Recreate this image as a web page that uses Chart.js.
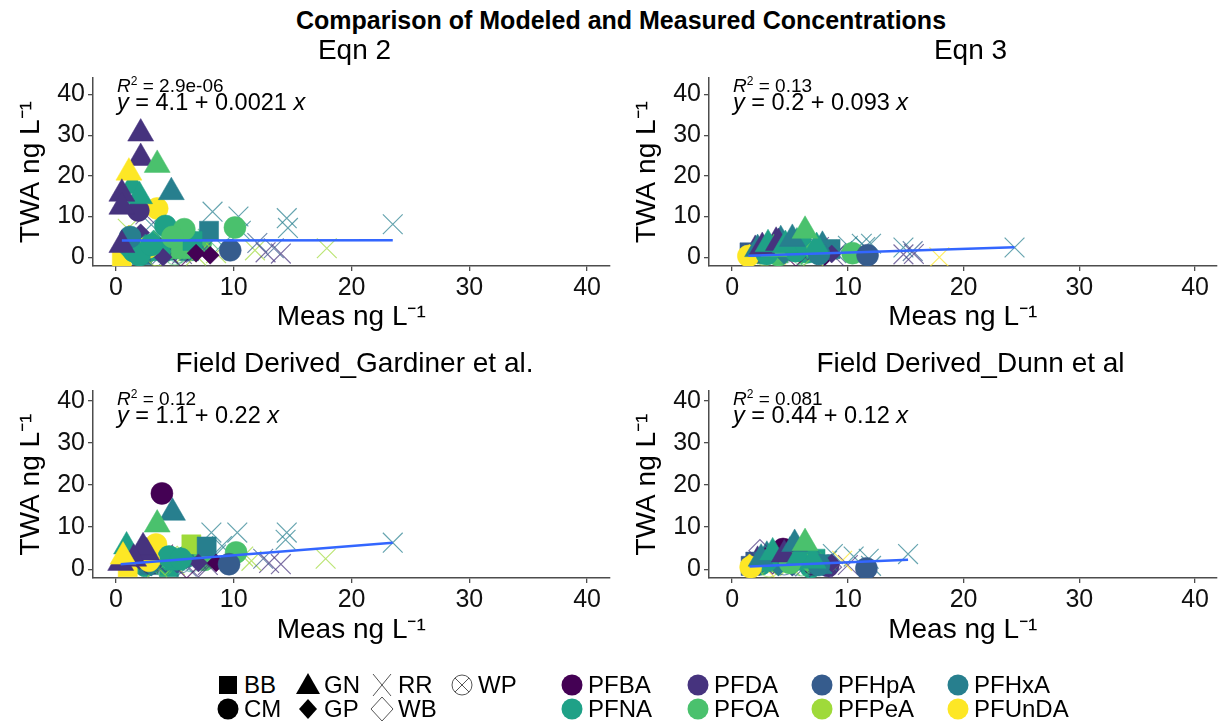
<!DOCTYPE html>
<html>
<head>
<meta charset="utf-8">
<script src="https://cdn.jsdelivr.net/npm/chart.js@4.4.1/dist/chart.umd.min.js"></script>
<style>
  body { margin: 0; width: 1232px; height: 724px; overflow: hidden; background: #fff;
         font-family: 'Liberation Sans', Arial, sans-serif; position: relative; }
  canvas.panel { position: absolute; }
  .t { position: absolute; white-space: nowrap; color: #000; line-height: 1; }
  .main-title { font-weight: bold; font-size: 25px; top: 8px; left: 621px; transform: translateX(-50%); }
  .sub { font-size: 28px; transform: translateX(-50%); }
  .r2 { font-size: 19px; }
  .eq { font-size: 23.5px; }
  .leg { position: absolute; display: flex; align-items: center; font-size: 24px; line-height: 1; }
  .leg canvas { margin-right: 4px; }
</style>
</head>
<body>
<div class="t main-title">Comparison of Modeled and Measured Concentrations</div>
<canvas id="c1" class="panel" width="625" height="280"></canvas>
<canvas id="c2" class="panel" width="616" height="280"></canvas>
<canvas id="c3" class="panel" width="625" height="280"></canvas>
<canvas id="c4" class="panel" width="616" height="280"></canvas>
<div id="labels"></div>
<div id="legend"></div>

<script>
// categories
const sites = ['BB', 'CM', 'GN', 'GP', 'RR', 'WB', 'WP'];
const compounds = ['PFBA', 'PFDA', 'PFHpA', 'PFHxA', 'PFNA', 'PFOA', 'PFPeA', 'PFUnDA'];
const panelTitles = ['Eqn 2', 'Eqn 3', 'Field Derived_Gardiner et al.', 'Field Derived_Dunn et al'];
const xTicks = [0, 10, 20, 30, 40];
const yTicks = [0, 10, 20, 30, 40];

// fit results shown in each panel
const fitIntercept = [4.1, 0.2, 1.1, 0.44];
const fitSlope = [0.0021, 0.093, 0.22, 0.12];
const fitR2 = ['2.9e-06', '0.13', '0.12', '0.081'];

// Eqn 2
const eqn2Meas = [2.5, 1.8, 4.8, 2.2, 6.2, 3.2, 5.2, 7.2,
  3.2, 3.8, 4.4, 5.0, 5.6, 6.2, 6.8, 7.5, 4.0, 2.8, 5.8, 7.8, 4.6, 6.0, 3.6, 5.3,
  8.2, 10.4, 10.6, 14.5, 14.6, 23.5, 17.9, 11.8, 12.7, 14, 13.4, 9, 7, 6, 5, 3.5, 12, 8.5, 3, 1, 2.5, 4.5,
  4, 5.5, 3, 6.5, 4.2, 5, 3.5,
  7.9, 0.5, 1.5, 5.5, 6.5, 3.8,
  8, 1.1, 2.1, 1.0, 2.5, 6.8, 4,
  3.5, 1.9, 4.2, 5.8, 10.1, 9.7, 2.7, 1.5, 2, 3, 4.8, 1.2,
  1.4, 2, 2.1, 2.1, 3.5, 1.1, 4.7, 0.5, 0.5, 0.5];
const eqn2Twa = [1, 3.5, 2, 0.5, 1.5, 4.5, 5.5, 3.5,
  0.5, 2.5, 1.2, 2.0, 0.8, 2.8, 0.4, 2.0, 4.0, 1.8, 4.5, 4.5, 2.8, 1.5, 2.2, 1.0,
  11.2, 10, 6.5, 9.6, 7.2, 8.1, 2.2, 1.7, 1.2, 0.9, 2.2, 3, 5.5, 1.2, 3, 2, 3.5, 1, 8, 7, 10.5, 0.5,
  1, 0.5, 0.8, 2.5, 1.5, 0.5, 0.3,
  6.5, 0, 3, 2, 4, 1.5,
  0.5, 5.7, 6, 1.5, 3.5, 1, 0,
  12, 11.5, 7.7, 6.9, 7.3, 1.7, 2.4, 1.5, 0.5, 3, 5, 5,
  17.5, 15, 30.4, 24.4, 22.7, 20.8, 16, 15.6, 12.4, 3.0];
const eqn2Site = ['CM', 'CM', 'CM', 'BB', 'BB', 'GP', 'CM', 'CM',
  'RR', 'RR', 'RR', 'RR', 'RR', 'RR', 'RR', 'RR', 'RR', 'RR', 'RR', 'RR', 'WB', 'WB', 'WP', 'WP',
  'RR', 'RR', 'RR', 'RR', 'RR', 'RR', 'RR', 'RR', 'RR', 'RR', 'RR', 'RR', 'RR', 'RR', 'RR', 'RR', 'RR', 'RR', 'RR', 'RR', 'RR', 'RR',
  'WB', 'WB', 'WB', 'WB', 'WP', 'WP', 'WP',
  'BB', 'BB', 'BB', 'BB', 'BB', 'BB',
  'GP', 'GP', 'GP', 'GP', 'GP', 'GP', 'GP',
  'CM', 'CM', 'CM', 'CM', 'CM', 'CM', 'CM', 'CM', 'CM', 'CM', 'CM', 'CM',
  'GN', 'GN', 'GN', 'GN', 'GN', 'GN', 'GN', 'GN', 'GN', 'GN'];
const eqn2Cmp = ['PFNA', 'PFNA', 'PFNA', 'PFHxA', 'PFHxA', 'PFNA', 'PFOA', 'PFOA',
  'PFDA', 'PFHpA', 'PFNA', 'PFOA', 'PFDA', 'PFNA', 'PFPeA', 'PFHpA', 'PFOA', 'PFPeA', 'PFHxA', 'PFOA', 'PFPeA', 'PFHpA', 'PFBA', 'PFNA',
  'PFHxA', 'PFHxA', 'PFHxA', 'PFHxA', 'PFHxA', 'PFHxA', 'PFPeA', 'PFPeA', 'PFDA', 'PFDA', 'PFHpA', 'PFNA', 'PFOA', 'PFPeA', 'PFDA', 'PFBA', 'PFHpA', 'PFPeA', 'PFHxA', 'PFPeA', 'PFDA', 'PFHpA',
  'PFDA', 'PFBA', 'PFHpA', 'PFHxA', 'PFHpA', 'PFOA', 'PFPeA',
  'PFHxA', 'PFUnDA', 'PFNA', 'PFOA', 'PFNA', 'PFNA',
  'PFBA', 'PFUnDA', 'PFDA', 'PFNA', 'PFHxA', 'PFBA', 'PFDA',
  'PFUnDA', 'PFDA', 'PFNA', 'PFOA', 'PFOA', 'PFHpA', 'PFUnDA', 'PFNA', 'PFNA', 'PFNA', 'PFOA', 'PFHxA',
  'PFNA', 'PFNA', 'PFDA', 'PFDA', 'PFOA', 'PFUnDA', 'PFHxA', 'PFDA', 'PFDA', 'PFDA'];

// Eqn 3
const eqn3Meas = [3.8, 4.2, 5.6, 5.0, 7.8, 2.0, 3.3, 1.5, 3.0, 5.2, 7.0, 2.2, 6.0, 2.5, 4.0, 6.5,
  2.8, 4.2, 5.5, 6.8, 8.2, 9.0, 3.8, 7.0, 6.5, 2.3, 7.5, 3.3,
  11.2, 12, 11.5, 14.8, 15.6, 14.8, 17.9, 24.4, 9.5, 7.5, 5, 3.5, 6.5, 8.8, 2.5, 10, 15.7,
  3.5, 5.5, 8, 4.5, 6, 2.8,
  2, 8.5, 6, 4,
  8, 1.5, 2.8, 4.5, 6.8, 8.6,
  10.4, 11.7, 1.4, 5.5, 3, 7.5,
  2.2, 3.6, 7.3, 2.6, 3.1, 4, 4.6, 5.2, 6.3];
const eqn3Twa = [3.8, 4.2, 3.6, 2.8, 2.8, 1.8, 2.0, 1.2, 1.5, 1.5, 1.2, 0.5, 0.4, 1.0, 0.5, 1.2,
  2.8, 1.8, 2.2, 2.0, 1.8, 1.0, 0.6, 0.3, 2.0, 1.3, 1.5, 1.3,
  3.3, 3.3, 2.5, 2.4, 1.5, 0.7, 0, 2.4, 1.5, 2.5, 1, 2, 0.5, 0.3, 0.8, 2.8, 0.8,
  1.5, 0.5, 1, 1, 0.6, 0.4,
  1, 2, 2.5, 1,
  0.2, 1, 1.5, 0.5, 1.5, 0.8,
  1, 0.5, 0.3, 1.5, 0.8, 0.8,
  2, 2, 2.5, 2.5, 3.2, 3.5, 3, 4.5, 6.5];
const eqn3Site = ['GN', 'GN', 'GN', 'GN', 'GN', 'GN', 'GN', 'BB', 'BB', 'BB', 'BB', 'GP', 'GP', 'CM', 'CM', 'CM',
  'RR', 'RR', 'RR', 'RR', 'RR', 'RR', 'RR', 'RR', 'WB', 'WB', 'WP', 'WP',
  'RR', 'RR', 'RR', 'RR', 'RR', 'RR', 'RR', 'RR', 'RR', 'RR', 'RR', 'RR', 'RR', 'RR', 'RR', 'RR', 'RR',
  'WB', 'WB', 'WB', 'WP', 'WP', 'WP',
  'BB', 'BB', 'BB', 'BB',
  'GP', 'GP', 'GP', 'GP', 'GP', 'GP',
  'CM', 'CM', 'CM', 'CM', 'CM', 'CM',
  'GN', 'GN', 'GN', 'GN', 'GN', 'GN', 'GN', 'GN', 'GN'];
const eqn3Cmp = ['PFDA', 'PFHxA', 'PFNA', 'PFOA', 'PFHxA', 'PFDA', 'PFNA', 'PFHpA', 'PFNA', 'PFHpA', 'PFNA', 'PFNA', 'PFOA', 'PFNA', 'PFOA', 'PFNA',
  'PFHpA', 'PFDA', 'PFNA', 'PFHpA', 'PFOA', 'PFHpA', 'PFUnDA', 'PFPeA', 'PFDA', 'PFHpA', 'PFNA', 'PFBA',
  'PFHxA', 'PFHxA', 'PFHxA', 'PFHxA', 'PFHpA', 'PFDA', 'PFUnDA', 'PFHxA', 'PFHxA', 'PFDA', 'PFPeA', 'PFBA', 'PFHpA', 'PFDA', 'PFPeA', 'PFHxA', 'PFDA',
  'PFDA', 'PFBA', 'PFHpA', 'PFHpA', 'PFOA', 'PFPeA',
  'PFHpA', 'PFHxA', 'PFNA', 'PFOA',
  'PFBA', 'PFUnDA', 'PFDA', 'PFHxA', 'PFOA', 'PFDA',
  'PFOA', 'PFHpA', 'PFUnDA', 'PFNA', 'PFNA', 'PFHxA',
  'PFHxA', 'PFOA', 'PFNA', 'PFDA', 'PFNA', 'PFDA', 'PFNA', 'PFHxA', 'PFOA'];

// Field Derived_Gardiner et al.
const gardMeas = [1.8, 2.5, 6.0, 7.5, 2.8, 4.5, 1.8, 5.2,
  3.0, 4.2, 5.6, 6.8, 7.8, 8.5, 3.5, 6.0, 5.2, 7.0, 3.0, 6.4,
  8.1, 10.3, 14.5, 14.4, 23.5, 17.8, 13, 14, 11.5, 12.5, 9, 10.8, 6.5, 5, 4,
  4.2, 6, 5.5, 4,
  6.4, 7.7, 1, 5,
  1.3, 2, 8.5, 7, 3,
  3.9, 3.4, 10.2, 9.6, 4.5, 5.5, 2.8,
  4.8, 3.5, 0.9, 2.6, 2.3, 1.5, 0.4, 0.6];
const gardTwa = [1.5, 0.8, 3.0, 2.2, 1.0, 0.5, 3.2, 1.2,
  2.5, 1.5, 3.2, 2.5, 1.0, 3.5, 0.5, 0.6, 2.8, 0.8, 1.2, 1.8,
  8.7, 8.7, 8.7, 7, 6.3, 2.5, 1.5, 1.2, 2, 2.5, 5.5, 3, 4, 1, 3.5,
  2, 0.5, 1.5, 0.8,
  5.9, 5.4, 0.5, 2,
  3.5, 2, 1.5, 1.5, 0.5,
  18, 5.9, 4, 1.2, 3, 2.5, 2,
  13.4, 10.6, 5.4, 4, 5.2, 2.5, 1.5, 3];
const gardSite = ['CM', 'CM', 'CM', 'CM', 'BB', 'BB', 'GP', 'GP',
  'RR', 'RR', 'RR', 'RR', 'RR', 'RR', 'RR', 'RR', 'WB', 'WB', 'WP', 'WP',
  'RR', 'RR', 'RR', 'RR', 'RR', 'RR', 'RR', 'RR', 'RR', 'RR', 'RR', 'RR', 'RR', 'RR', 'RR',
  'WB', 'WB', 'WP', 'WP',
  'BB', 'BB', 'BB', 'BB',
  'GP', 'GP', 'GP', 'GP', 'GP',
  'CM', 'CM', 'CM', 'CM', 'CM', 'CM', 'CM',
  'GN', 'GN', 'GN', 'GN', 'GN', 'GN', 'GN', 'GN'];
const gardCmp = ['PFNA', 'PFNA', 'PFNA', 'PFOA', 'PFHxA', 'PFNA', 'PFNA', 'PFHpA',
  'PFDA', 'PFNA', 'PFOA', 'PFHpA', 'PFDA', 'PFHxA', 'PFPeA', 'PFHpA', 'PFPeA', 'PFDA', 'PFBA', 'PFNA',
  'PFHxA', 'PFHxA', 'PFHxA', 'PFHxA', 'PFHxA', 'PFPeA', 'PFDA', 'PFDA', 'PFPeA', 'PFHpA', 'PFHxA', 'PFPeA', 'PFOA', 'PFPeA', 'PFBA',
  'PFDA', 'PFBA', 'PFHpA', 'PFOA',
  'PFPeA', 'PFHxA', 'PFUnDA', 'PFNA',
  'PFUnDA', 'PFDA', 'PFBA', 'PFDA', 'PFHxA',
  'PFBA', 'PFUnDA', 'PFOA', 'PFHpA', 'PFNA', 'PFNA', 'PFUnDA',
  'PFHxA', 'PFOA', 'PFNA', 'PFDA', 'PFDA', 'PFDA', 'PFDA', 'PFUnDA'];

// Field Derived_Dunn et al
const dunnMeas = [3.0, 4.0, 5.0, 6.0, 2.2, 2.5, 3.8, 6.8, 8.3, 2.0, 4.6, 7.2, 2.1, 5.2, 7.6,
  3.6, 4.8, 6.4, 7.5, 8.2, 2.8, 4.0, 6.8, 5.0, 7.0,
  15.2, 10.5, 11.8, 8.7, 10, 12, 9.5, 5, 3,
  2.4, 3.5, 8.5, 5.5, 4.5, 6, 3.2,
  1.6, 6, 7.8,
  2.9, 1.5, 8.6, 4, 6.5,
  4.4, 11.6, 3, 5, 1.6, 7.5,
  2.5, 3.5, 4.5, 5.8, 7, 5.4, 6.3];
const dunnTwa = [3.2, 2.8, 4.2, 3.8, 2.0, 1.2, 1.8, 0.5, 0.8, 1.8, 2.0, 2.5, 0.6, 0.5, 1.8,
  2.8, 1.8, 2.5, 0.5, 2.0, 0.4, 3.2, 1.6, 2.6, 1.0,
  3.6, 3, 2.5, 3.6, 1, 0.8, 2, 0.8, 1,
  4.4, 1.5, 0.5, 1, 1, 0.8, 0.5,
  0.8, 2, 1.2,
  3, 1.5, 1.5, 0.5, 1.5,
  4.8, 0.2, 2, 1.5, 0.5, 1,
  2.5, 4, 3.5, 3, 2, 6, 6.2];
const dunnSite = ['GN', 'GN', 'GN', 'GN', 'GN', 'CM', 'CM', 'CM', 'CM', 'BB', 'BB', 'BB', 'GP', 'GP', 'GP',
  'RR', 'RR', 'RR', 'RR', 'RR', 'RR', 'WB', 'WB', 'WP', 'WP',
  'RR', 'RR', 'RR', 'RR', 'RR', 'RR', 'RR', 'RR', 'RR',
  'WB', 'WB', 'WB', 'WB', 'WP', 'WP', 'WP',
  'BB', 'BB', 'BB',
  'GP', 'GP', 'GP', 'GP', 'GP',
  'CM', 'CM', 'CM', 'CM', 'CM', 'CM',
  'GN', 'GN', 'GN', 'GN', 'GN', 'GN', 'GN'];
const dunnCmp = ['PFHxA', 'PFNA', 'PFHxA', 'PFNA', 'PFDA', 'PFNA', 'PFOA', 'PFNA', 'PFDA', 'PFHpA', 'PFNA', 'PFNA', 'PFNA', 'PFHpA', 'PFOA',
  'PFDA', 'PFNA', 'PFHpA', 'PFDA', 'PFHxA', 'PFUnDA', 'PFBA', 'PFDA', 'PFNA', 'PFBA',
  'PFHxA', 'PFHxA', 'PFHxA', 'PFHxA', 'PFDA', 'PFHxA', 'PFUnDA', 'PFPeA', 'PFPeA',
  'PFDA', 'PFBA', 'PFDA', 'PFHpA', 'PFHpA', 'PFOA', 'PFPeA',
  'PFHpA', 'PFNA', 'PFHxA',
  'PFBA', 'PFUnDA', 'PFDA', 'PFHxA', 'PFOA',
  'PFBA', 'PFHpA', 'PFNA', 'PFOA', 'PFUnDA', 'PFHxA',
  'PFHxA', 'PFNA', 'PFDA', 'PFNA', 'PFNA', 'PFHxA', 'PFOA'];

const panelData = [
  [eqn2Meas, eqn2Twa, eqn2Site, eqn2Cmp],
  [eqn3Meas, eqn3Twa, eqn3Site, eqn3Cmp],
  [gardMeas, gardTwa, gardSite, gardCmp],
  [dunnMeas, dunnTwa, dunnSite, dunnCmp]
];

// viridis, one per compound
const palette = ['#440154', '#46337E', '#365C8D', '#277F8E', '#1FA187', '#4AC16D', '#9FDA3A', '#FDE725'];
const colorOf = c => palette[compounds.indexOf(c)];
function rgba(hex, a) {
  const n = parseInt(hex.slice(1), 16);
  return `rgba(${n >> 16},${(n >> 8) & 255},${n & 255},${a})`;
}

const FONT = "'Liberation Sans', Arial, sans-serif";

// draws one marker shape on a plain canvas (legend keys and WP symbol)
function drawShape(ctx, site, color, cx, cy) {
  ctx.fillStyle = color;
  ctx.strokeStyle = color;
  ctx.lineWidth = 1;
  ctx.beginPath();
  if (site === 'BB') {
    ctx.fillRect(cx - 9, cy - 9, 18, 18);
  } else if (site === 'CM') {
    ctx.arc(cx, cy, 10.5, 0, Math.PI * 2); ctx.fill();
  } else if (site === 'GN') {
    ctx.moveTo(cx, cy - 12); ctx.lineTo(cx + 12, cy + 9); ctx.lineTo(cx - 12, cy + 9); ctx.closePath(); ctx.fill();
  } else if (site === 'GP') {
    ctx.moveTo(cx, cy - 10); ctx.lineTo(cx + 9, cy); ctx.lineTo(cx, cy + 10); ctx.lineTo(cx - 9, cy); ctx.closePath(); ctx.fill();
  } else if (site === 'RR') {
    ctx.moveTo(cx - 9, cy - 11); ctx.lineTo(cx + 9, cy + 11);
    ctx.moveTo(cx + 9, cy - 11); ctx.lineTo(cx - 9, cy + 11); ctx.stroke();
  } else if (site === 'WB') {
    ctx.moveTo(cx, cy - 12); ctx.lineTo(cx + 11, cy); ctx.lineTo(cx, cy + 12); ctx.lineTo(cx - 11, cy); ctx.closePath(); ctx.stroke();
  } else if (site === 'WP') {
    ctx.arc(cx, cy, 10, 0, Math.PI * 2);
    ctx.moveTo(cx - 7, cy - 7); ctx.lineTo(cx + 7, cy + 7);
    ctx.moveTo(cx + 7, cy - 7); ctx.lineTo(cx - 7, cy + 7); ctx.stroke();
  }
}

// image point style for WP (circle with a cross), one per compound
const wpImages = {};
compounds.forEach(c => {
  const cv = document.createElement('canvas');
  cv.width = 24; cv.height = 24;
  drawShape(cv.getContext('2d'), 'WP', rgba(colorOf(c), 0.75), 12, 12);
  wpImages[c] = cv;
});

const shapeStyle = {
  BB: { style: 'rect', r: 13.5, filled: true },
  CM: { style: 'circle', r: 11, filled: true },
  GN: { style: 'triangle', r: 15, filled: true },
  GP: { style: 'rectRot', r: 9, filled: true },
  RR: { style: 'crossRot', r: 14, filled: false },
  WB: { style: 'rectRot', r: 11, filled: false },
  WP: { style: 'image', r: 12, filled: false }
};

// panel boxes on the page
const boxes = [
  { id: 'c1', left: 0, top: 60, padT: 13, padR: 9, axisW: 93, axisH: 74, xMin: -1.95, xMax: 41.9, yMin: -2.16, yMax: 44.07 },
  { id: 'c2', left: 616, top: 60, padT: 13, padR: 0, axisW: 93, axisH: 74, xMin: -2, xMax: 41.85, yMin: -2.16, yMax: 44.07 },
  { id: 'c3', left: 0, top: 373, padT: 13, padR: 9, axisW: 93, axisH: 75, xMin: -1.95, xMax: 41.9, yMin: -2.08, yMax: 42.3 },
  { id: 'c4', left: 616, top: 373, padT: 13, padR: 0, axisW: 93, axisH: 75, xMin: -2, xMax: 41.85, yMin: -2.08, yMax: 42.3 }
];

const axisGrid = { drawOnChartArea: false, drawTicks: true, tickLength: 5, color: '#4d4d4d', lineWidth: 1.3 };
const axisBorder = { display: true, color: '#4d4d4d', width: 1.5 };
const tickFont = { family: FONT, size: 25 };
const titleFont = { family: FONT, size: 28 };

boxes.forEach((b, p) => {
  const [meas, twa, site, cmp] = panelData[p];
  const cv = document.getElementById(b.id);
  cv.style.left = b.left + 'px';
  cv.style.top = b.top + 'px';

  const points = meas.map((m, i) => ({ x: m, y: twa[i] }));
  const styles = site.map(s => shapeStyle[s]);
  const lo = Math.min(...meas), hi = Math.max(...meas);
  const fitLine = [lo, hi].map(x => ({ x: x, y: fitIntercept[p] + fitSlope[p] * x }));

  new Chart(cv, {
    type: 'scatter',
    data: {
      datasets: [
        {
          data: fitLine, showLine: true, pointRadius: 0,
          borderColor: '#3366FF', borderWidth: 2.5, order: 0
        },
        {
          data: points, order: 1,
          pointStyle: site.map((s, i) => s === 'WP' ? wpImages[cmp[i]] : shapeStyle[s].style),
          pointRadius: styles.map(st => st.r),
          pointBackgroundColor: styles.map((st, i) => st.filled ? colorOf(cmp[i]) : 'rgba(0,0,0,0)'),
          pointBorderColor: styles.map((st, i) => st.filled ? colorOf(cmp[i]) : rgba(colorOf(cmp[i]), 0.7)),
          pointBorderWidth: styles.map(st => st.filled ? 0.5 : 1.2)
        }
      ]
    },
    options: {
      responsive: false,
      animation: false,
      events: [],
      layout: { padding: { top: b.padT, right: b.padR, left: 0, bottom: 0 } },
      plugins: { legend: { display: false }, tooltip: { enabled: false } },
      scales: {
        x: {
          type: 'linear', min: b.xMin, max: b.xMax,
          afterFit: s => { s.height = b.axisH; },
          afterBuildTicks: s => { s.ticks = xTicks.map(v => ({ value: v })); },
          ticks: { color: '#111', font: tickFont, padding: 2, maxRotation: 0 },
          grid: axisGrid, border: axisBorder,
          title: { display: true, text: 'Meas ng L\u207B\u00B9', color: '#000', font: titleFont, padding: { top: 0, bottom: 6 } }
        },
        y: {
          type: 'linear', min: b.yMin, max: b.yMax,
          afterFit: s => { s.width = b.axisW; },
          afterBuildTicks: s => { s.ticks = yTicks.map(v => ({ value: v })); },
          ticks: { color: '#111', font: tickFont, padding: 3 },
          grid: axisGrid, border: axisBorder,
          title: { display: true, text: 'TWA ng L\u207B\u00B9', color: '#000', font: titleFont, padding: { top: 14, bottom: 0 } }
        }
      }
    }
  });

  // panel title and fit annotation
  const plotLeft = b.left + b.axisW;
  const plotRight = b.left + cv.width - b.padR;
  const labels = document.getElementById('labels');
  const sub = document.createElement('div');
  sub.className = 't sub';
  sub.style.left = ((plotLeft + plotRight) / 2) + 'px';
  sub.style.top = (b.top - 24) + 'px';
  sub.textContent = panelTitles[p];
  labels.appendChild(sub);

  const r2 = document.createElement('div');
  r2.className = 't r2';
  r2.style.left = (plotLeft + 24) + 'px';
  r2.style.top = (b.top + 15) + 'px';
  r2.innerHTML = `<i>R</i><sup style="font-size:12px;vertical-align:7px">2</sup> = ${fitR2[p]}`;
  labels.appendChild(r2);

  const eq = document.createElement('div');
  eq.className = 't eq';
  eq.style.left = (plotLeft + 24) + 'px';
  eq.style.top = (b.top + 31) + 'px';
  eq.innerHTML = `<i>y</i> = ${fitIntercept[p]} + ${fitSlope[p]} <i>x</i>`;
  labels.appendChild(eq);
});

// legends: shapes by site, colours by compound
const siteLegendPos = [[216, 672], [216, 696], [296, 672], [296, 696], [370, 672], [370, 696], [450, 672]];
const cmpLegendPos = [[560, 672], [686, 672], [810, 672], [946, 672], [560, 696], [686, 696], [810, 696], [946, 696]];
const legend = document.getElementById('legend');
function addLegendItem(x, y, label, site, color) {
  const item = document.createElement('div');
  item.className = 'leg';
  item.style.left = x + 'px';
  item.style.top = y + 'px';
  const k = document.createElement('canvas');
  k.width = 24; k.height = 26;
  drawShape(k.getContext('2d'), site, color, 12, 13);
  const span = document.createElement('span');
  span.textContent = label;
  item.appendChild(k);
  item.appendChild(span);
  legend.appendChild(item);
}
sites.forEach((s, i) => addLegendItem(siteLegendPos[i][0], siteLegendPos[i][1], s, s,
  (s === 'RR' || s === 'WB' || s === 'WP') ? '#555' : '#000'));
compounds.forEach((c, i) => addLegendItem(cmpLegendPos[i][0], cmpLegendPos[i][1], c, 'CM', colorOf(c)));
</script>
</body>
</html>
